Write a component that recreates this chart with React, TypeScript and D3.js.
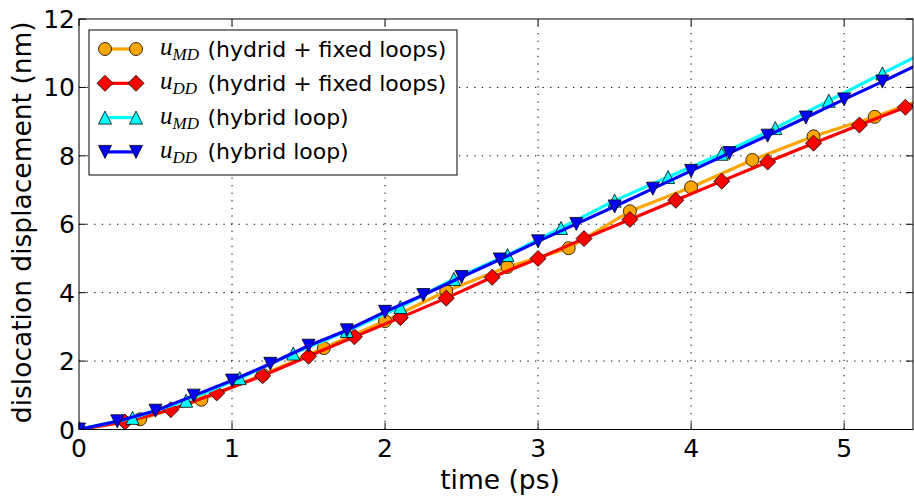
import React from 'react';
import * as d3 from 'd3';

// time samples (ps) and displacement (nm)
const tMDFixed = [0, 0.4, 0.8, 1.2, 1.6, 2.0, 2.4, 2.8, 3.2, 3.6, 4.0, 4.4, 4.8, 5.2, 5.6];
const uMDFixed = [0, 0.3, 0.87, 1.6, 2.38, 3.17, 4.05, 4.75, 5.3, 6.38, 7.08, 7.88, 8.57, 9.14, 9.8];

const tDDFixed = [0, 0.3, 0.6, 0.9, 1.2, 1.5, 1.8, 2.1, 2.4, 2.7, 3.0, 3.3, 3.6, 3.9, 4.2, 4.5, 4.8, 5.1, 5.4, 5.7];
const uDDFixed = [0, 0.22, 0.58, 1.07, 1.57, 2.14, 2.71, 3.27, 3.84, 4.45, 5.0, 5.58, 6.14, 6.7, 7.26, 7.82, 8.37, 8.9, 9.42, 9.95];

const tMDLoop = [0, 0.35, 0.7, 1.05, 1.4, 1.75, 2.1, 2.45, 2.8, 3.15, 3.5, 3.85, 4.2, 4.55, 4.9, 5.25, 5.6];
const uMDLoop = [0, 0.34, 0.84, 1.5, 2.22, 2.88, 3.58, 4.4, 5.1, 5.89, 6.69, 7.38, 8.06, 8.81, 9.61, 10.41, 11.2];

const tDDLoop = [0, 0.25, 0.5, 0.75, 1.0, 1.25, 1.5, 1.75, 2.0, 2.25, 2.5, 2.75, 3.0, 3.25, 3.5, 3.75, 4.0, 4.25, 4.5, 4.75, 5.0, 5.25, 5.5];
const uDDLoop = [0, 0.24, 0.55, 0.99, 1.43, 1.92, 2.45, 2.9, 3.44, 3.93, 4.46, 4.97, 5.5, 6.01, 6.52, 7.04, 7.56, 8.08, 8.59, 9.12, 9.65, 10.17, 10.7];

const xTicks = [0, 1, 2, 3, 4, 5];
const yTicks = [0, 2, 4, 6, 8, 10, 12];

type Shape = 'circle' | 'diamond' | 'up' | 'down';

const series = [
  { sub: 'MD', label: '(hydrid + fixed loops)', t: tMDFixed, u: uMDFixed, color: '#ffa500', shape: 'circle' as Shape },
  { sub: 'DD', label: '(hydrid + fixed loops)', t: tDDFixed, u: uDDFixed, color: '#ff0000', shape: 'diamond' as Shape },
  { sub: 'MD', label: '(hybrid loop)', t: tMDLoop, u: uMDLoop, color: '#00ffff', shape: 'up' as Shape },
  { sub: 'DD', label: '(hybrid loop)', t: tDDLoop, u: uDDLoop, color: '#0000ff', shape: 'down' as Shape },
];

const W = 914;
const H = 497;
const left = 79, right = 913, top = 19, bottom = 429.5;

const markerPath = (shape: Shape, cx: number, cy: number) => {
  if (shape === 'circle') {
    const r = 6.5;
    return `M${cx - r},${cy}a${r},${r} 0 1,0 ${2 * r},0a${r},${r} 0 1,0 ${-2 * r},0Z`;
  }
  if (shape === 'diamond') {
    const r = 8;
    return `M${cx},${cy - r}L${cx + r},${cy}L${cx},${cy + r}L${cx - r},${cy}Z`;
  }
  const s = 6.5;
  if (shape === 'up') return `M${cx},${cy - s}L${cx + s},${cy + s}L${cx - s},${cy + s}Z`;
  return `M${cx},${cy + s}L${cx + s},${cy - s}L${cx - s},${cy - s}Z`;
};

export default function App() {
  const x = d3.scaleLinear().domain([0, 5.45]).range([left, right]);
  const y = d3.scaleLinear().domain([0, 12]).range([bottom, top]);
  const line = d3.line<[number, number]>().x(d => x(d[0])).y(d => y(d[1]));

  const font = 'DejaVu Sans, Bitstream Vera Sans, sans-serif';

  return (
    <svg width={W} height={H} style={{ position: 'absolute', left: 0, top: 0, background: '#fff' }}
      fontFamily={font}>
      <defs>
        <clipPath id="plotclip">
          <rect x={left} y={top} width={right - left} height={bottom - top} />
        </clipPath>
      </defs>

      {/* grid */}
      <g stroke="#000" strokeWidth={1} strokeDasharray="1.3,6.3">
        {xTicks.slice(1).map(v => (
          <line key={'gx' + v} x1={x(v)} x2={x(v)} y1={bottom} y2={top} />
        ))}
        {yTicks.slice(1, -1).map(v => (
          <line key={'gy' + v} x1={left} x2={right} y1={y(v)} y2={y(v)} />
        ))}
      </g>

      {/* data */}
      <g clipPath="url(#plotclip)">
        {series.map((s, i) => {
          const pts = s.t.map((t, j) => [t, s.u[j]] as [number, number]);
          return (
            <g key={i}>
              <path d={line(pts) || ''} fill="none" stroke={s.color} strokeWidth={3.2} strokeLinejoin="round" />
              {pts.map((p, j) => (
                <path key={j} d={markerPath(s.shape, x(p[0]), y(p[1]))} fill={s.color} stroke="#000" strokeWidth={0.8} />
              ))}
            </g>
          );
        })}
      </g>

      {/* frame and ticks */}
      <rect x={left} y={top} width={right - left} height={bottom - top} fill="none" stroke="#000" strokeWidth={1} />
      <g stroke="#000" strokeWidth={1}>
        {xTicks.map(v => (
          <g key={'tx' + v}>
            <line x1={x(v)} x2={x(v)} y1={bottom} y2={bottom - 7} />
            <line x1={x(v)} x2={x(v)} y1={top} y2={top + 7} />
          </g>
        ))}
        {yTicks.map(v => (
          <g key={'ty' + v}>
            <line x1={left} x2={left + 7} y1={y(v)} y2={y(v)} />
            <line x1={right} x2={right - 7} y1={y(v)} y2={y(v)} />
          </g>
        ))}
      </g>

      {/* tick labels */}
      <g fontSize={25} fill="#000">
        {xTicks.map(v => (
          <text key={'lx' + v} x={x(v)} y={bottom + 27} textAnchor="middle">{v}</text>
        ))}
        {yTicks.map(v => (
          <text key={'ly' + v} x={left - 4} y={y(v) + 9} textAnchor="end">{v}</text>
        ))}
      </g>

      {/* axis labels */}
      <text x={(left + right) / 2 + 4} y={489} fontSize={26.5} textAnchor="middle">time (ps)</text>
      <text transform={`translate(31,${(top + bottom) / 2 - 2}) rotate(-90)`} fontSize={26.5} textAnchor="middle">
        dislocation displacement (nm)
      </text>

      {/* legend */}
      <rect x={89} y={30} width={368} height={145} fill="#fff" stroke="#000" strokeWidth={1} />
      {series.map((s, i) => {
        const cy = 49 + i * 34.3;
        return (
          <g key={'leg' + i}>
            <line x1={105} x2={136} y1={cy} y2={cy} stroke={s.color} strokeWidth={3.2} />
            <path d={markerPath(s.shape, 105, cy)} fill={s.color} stroke="#000" strokeWidth={0.8} />
            <path d={markerPath(s.shape, 136, cy)} fill={s.color} stroke="#000" strokeWidth={0.8} />
            <text x={160} y={cy + 6} fontFamily="Liberation Serif, DejaVu Serif, serif" fontStyle="italic" fontSize={25}>
              u
              <tspan fontSize={17} dy={5}>{s.sub}</tspan>
            </text>
            <text x={207.5} y={cy + 7.5} fontSize={22}>{s.label}</text>
          </g>
        );
      })}
    </svg>
  );
}
